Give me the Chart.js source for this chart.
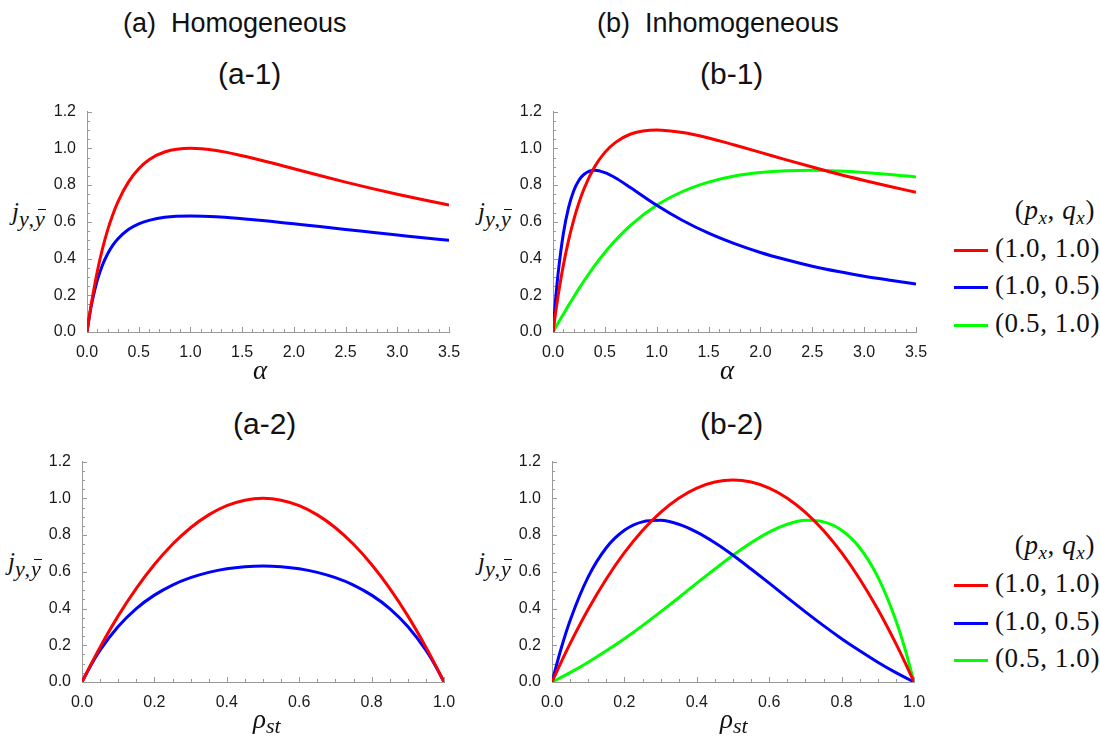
<!DOCTYPE html>
<html lang="en">
<head>
<meta charset="UTF-8">
<title>Current j vs alpha and rho_st</title>
<script src="https://cdn.jsdelivr.net/npm/chart.js"></script>
<style>
  body { margin: 0; width: 1100px; height: 740px; background: #fff; position: relative; overflow: hidden;
         font-family: "Liberation Sans", Arial, sans-serif; color: #111; }
  canvas { position: absolute; }
  .ttl { position: absolute; font-size: 27px; line-height: 27px; white-space: nowrap; }
  .sub-ttl { font-size: 30px; line-height: 30px; }
  .mth { position: absolute; font-family: "Liberation Serif", serif; font-style: italic; white-space: nowrap; }
  .ax { font-size: 27px; line-height: 26px; }
  .ax sub { font-size: 22px; vertical-align: -5px; line-height: 0; }
  .jl { font-size: 25px; line-height: 22px; }
  .jl sub { font-size: 22px; vertical-align: -6px; line-height: 0; letter-spacing: 1px; }
  .yb { position: relative; }
  .yb::after { content: ""; position: absolute; left: 3px; right: 0px; top: 3px; border-top: 1px solid #111; }
  .leg { position: absolute; font-family: "Liberation Serif", serif; font-size: 27px; line-height: 26px;
         white-space: nowrap; letter-spacing: 0.6px; }
  .leg i sub { font-size: 19px; vertical-align: -5px; line-height: 0; }
  .sw { position: absolute; width: 34px; height: 3px; }
</style>
</head>
<body>
  <div class="ttl" style="left:123px; top:10px">(a)&nbsp;&nbsp;Homogeneous</div>
  <div class="ttl" style="left:597px; top:10px">(b)&nbsp;&nbsp;Inhomogeneous</div>
  <div class="ttl sub-ttl" style="left:218px; top:59px">(a-1)</div>
  <div class="ttl sub-ttl" style="left:700px; top:59px">(b-1)</div>
  <div class="ttl sub-ttl" style="left:233px; top:409px">(a-2)</div>
  <div class="ttl sub-ttl" style="left:700px; top:409px">(b-2)</div>

  <canvas id="a1" width="417" height="259" style="left:47px; top:99px"></canvas>
  <canvas id="b1" width="418" height="259" style="left:513px; top:99px"></canvas>
  <canvas id="a2" width="417" height="259" style="left:42px; top:449px"></canvas>
  <canvas id="b2" width="417" height="259" style="left:512px; top:449px"></canvas>

  <div class="mth jl" style="left:12px; top:201px">j<sub>y,<span class="yb">y</span></sub></div>
  <div class="mth jl" style="left:478px; top:201px">j<sub>y,<span class="yb">y</span></sub></div>
  <div class="mth jl" style="left:8px; top:551px">j<sub>y,<span class="yb">y</span></sub></div>
  <div class="mth jl" style="left:478px; top:551px">j<sub>y,<span class="yb">y</span></sub></div>

  <div class="mth ax" style="left:253px; top:357px">α</div>
  <div class="mth ax" style="left:720px; top:357px">α</div>
  <div class="mth ax" style="left:253px; top:706px">ρ<sub>st</sub></div>
  <div class="mth ax" style="left:720px; top:706px">ρ<sub>st</sub></div>

  <div id="legTop"></div>
  <div id="legBot"></div>

<script>
  // x grids
  const alphaGrid = [0, 0.025, 0.05, 0.1, 0.15, 0.2, 0.25, 0.3, 0.4, 0.5, 0.6, 0.75, 1.0, 1.25, 1.5, 1.75, 2.0, 2.25, 2.5, 2.75, 3.0, 3.25, 3.5];
  const rhoGrid = [0, 0.025, 0.05, 0.1, 0.15, 0.2, 0.25, 0.3, 0.35, 0.4, 0.45, 0.5, 0.55, 0.6, 0.65, 0.7, 0.75, 0.8, 0.85, 0.9, 0.95, 0.975, 1.0];

  // (a-1) homogeneous, vs alpha
  const a1Red  = [0, 0.095, 0.181, 0.331, 0.454, 0.556, 0.640, 0.710, 0.816, 0.889, 0.938, 0.980, 1.000, 0.988, 0.960, 0.926, 0.889, 0.852, 0.816, 0.782, 0.750, 0.720, 0.691];
  const a1Blue = [0, 0.091, 0.166, 0.282, 0.365, 0.426, 0.473, 0.508, 0.558, 0.589, 0.608, 0.625, 0.632, 0.628, 0.617, 0.604, 0.589, 0.574, 0.558, 0.543, 0.528, 0.513, 0.499];

  // (b-1) inhomogeneous, vs alpha
  const b1Red   = [0, 0.105, 0.200, 0.364, 0.499, 0.611, 0.704, 0.781, 0.898, 0.978, 1.031, 1.078, 1.100, 1.086, 1.056, 1.018, 0.978, 0.937, 0.898, 0.860, 0.825, 0.792, 0.761];
  const b1Blue  = [0, 0.177, 0.322, 0.536, 0.677, 0.769, 0.826, 0.859, 0.881, 0.868, 0.840, 0.785, 0.690, 0.607, 0.538, 0.481, 0.433, 0.393, 0.358, 0.329, 0.304, 0.282, 0.261];
  const b1Green = [0, 0.024, 0.049, 0.097, 0.145, 0.191, 0.236, 0.279, 0.360, 0.433, 0.498, 0.582, 0.690, 0.765, 0.816, 0.849, 0.868, 0.878, 0.881, 0.877, 0.869, 0.858, 0.844];

  // (a-2) homogeneous, vs rho_st
  const a2Red  = [0, 0.0975, 0.19, 0.36, 0.51, 0.64, 0.75, 0.84, 0.91, 0.96, 0.99, 1.0, 0.99, 0.96, 0.91, 0.84, 0.75, 0.64, 0.51, 0.36, 0.19, 0.0975, 0];
  const a2Blue = [0, 0.093, 0.173, 0.302, 0.400, 0.473, 0.528, 0.568, 0.597, 0.617, 0.628, 0.632, 0.628, 0.617, 0.597, 0.568, 0.528, 0.473, 0.400, 0.302, 0.173, 0.093, 0];

  // (b-2) inhomogeneous, vs rho_st
  const b2Red   = [0, 0.107, 0.209, 0.396, 0.561, 0.704, 0.825, 0.924, 1.001, 1.056, 1.089, 1.1, 1.089, 1.056, 1.001, 0.924, 0.825, 0.704, 0.561, 0.396, 0.209, 0.107, 0];
  const b2Blue  = [0, 0.181, 0.335, 0.572, 0.731, 0.826, 0.872, 0.880, 0.859, 0.816, 0.758, 0.690, 0.615, 0.538, 0.459, 0.382, 0.307, 0.236, 0.170, 0.108, 0.051, 0.025, 0];
  const b2Green = [0, 0.025, 0.051, 0.108, 0.170, 0.236, 0.307, 0.382, 0.459, 0.538, 0.615, 0.690, 0.758, 0.816, 0.859, 0.880, 0.872, 0.826, 0.731, 0.572, 0.335, 0.181, 0];

  const legendLabels = ['(1.0, 1.0)', '(1.0, 0.5)', '(0.5, 1.0)'];
  const colors = ['#ff0000', '#0000ff', '#00ff00'];

  // Mathematica-like inward tick marks, placed with the chart's own scales
  const inTicks = {
    id: 'inTicks',
    beforeDatasetsDraw(chart, args, opts) {
      const {ctx, chartArea: a, scales} = chart;
      ctx.save();
      ctx.strokeStyle = '#999';
      ctx.lineWidth = 1;
      const mark = (scale, step, major, horiz) => {
        const n = Math.round((scale.max - scale.min) / step);
        for (let i = 0; i <= n; i++) {
          const v = scale.min + i * step;
          const isMajor = Math.abs(v / major - Math.round(v / major)) < 1e-6;
          const len = isMajor ? 5 : 3;
          const p = Math.round(scale.getPixelForValue(v)) + 0.5;
          ctx.beginPath();
          if (horiz) { ctx.moveTo(p, a.bottom); ctx.lineTo(p, a.bottom - len); }
          else { ctx.moveTo(a.left, p); ctx.lineTo(a.left + len, p); }
          ctx.stroke();
        }
      };
      mark(scales.x, opts.xMinor, opts.xMajor, true);
      mark(scales.y, 0.05, 0.2, false);
      ctx.restore();
    }
  };

  const tickFont = {family: '"Liberation Sans", Arial, sans-serif', size: 16};

  function panel(id, xs, series, xMax, xMajor, xMinor) {
    new Chart(document.getElementById(id), {
      type: 'line',
      data: {
        datasets: series.map((ys, i) => ({
          data: xs.map((x, k) => ({x: x, y: ys[k]})),
          borderColor: colors[i],
          borderWidth: 3,
          pointRadius: 0,
          fill: false,
          cubicInterpolationMode: 'monotone'
        }))
      },
      options: {
        responsive: false,
        animation: false,
        devicePixelRatio: 1,
        layout: {padding: {top: 10, right: 15, left: 0, bottom: 0}},
        scales: {
          x: {
            type: 'linear', min: 0, max: xMax,
            grid: {display: false},
            border: {display: true, color: '#999', width: 1},
            ticks: {stepSize: xMajor, color: '#1a1a1a', font: tickFont, padding: 3, maxRotation: 0, autoSkip: false,
                    callback: v => v.toFixed(1)},
            afterFit: s => { s.height = 26; }
          },
          y: {
            min: 0, max: 1.2,
            grid: {display: false},
            border: {display: true, color: '#999', width: 1},
            ticks: {stepSize: 0.2, color: '#1a1a1a', font: tickFont, padding: 3,
                    callback: v => v.toFixed(1)},
            afterFit: s => { s.width = 40; }
          }
        },
        plugins: {
          legend: {display: false},
          tooltip: {enabled: false},
          inTicks: {xMajor: xMajor, xMinor: xMinor}
        }
      },
      plugins: [inTicks]
    });
  }

  panel('a1', alphaGrid, [a1Red, a1Blue], 3.5, 0.5, 0.1);
  panel('b1', alphaGrid, [b1Red, b1Blue, b1Green], 3.5, 0.5, 0.1);
  panel('a2', rhoGrid, [a2Red, a2Blue], 1.0, 0.2, 0.05);
  panel('b2', rhoGrid, [b2Red, b2Blue, b2Green], 1.0, 0.2, 0.05);

  // legends
  function legend(hostId, headY, rowYs) {
    const host = document.getElementById(hostId);
    let html = '<div class="leg" style="right:5px; top:' + (headY - 15) + 'px">(<i>p<sub>x</sub></i>, <i>q<sub>x</sub></i>)</div>';
    legendLabels.forEach((lab, i) => {
      html += '<div class="sw" style="left:954px; top:' + (rowYs[i] - 1.5) + 'px; background:' + colors[i] + '"></div>';
      html += '<div class="leg" style="left:995px; top:' + (rowYs[i] - 15) + 'px">' + lab + '</div>';
    });
    host.innerHTML = html;
  }
  legend('legTop', 212, [250, 287, 325]);
  legend('legBot', 547, [585, 623, 660]);
</script>
</body>
</html>
